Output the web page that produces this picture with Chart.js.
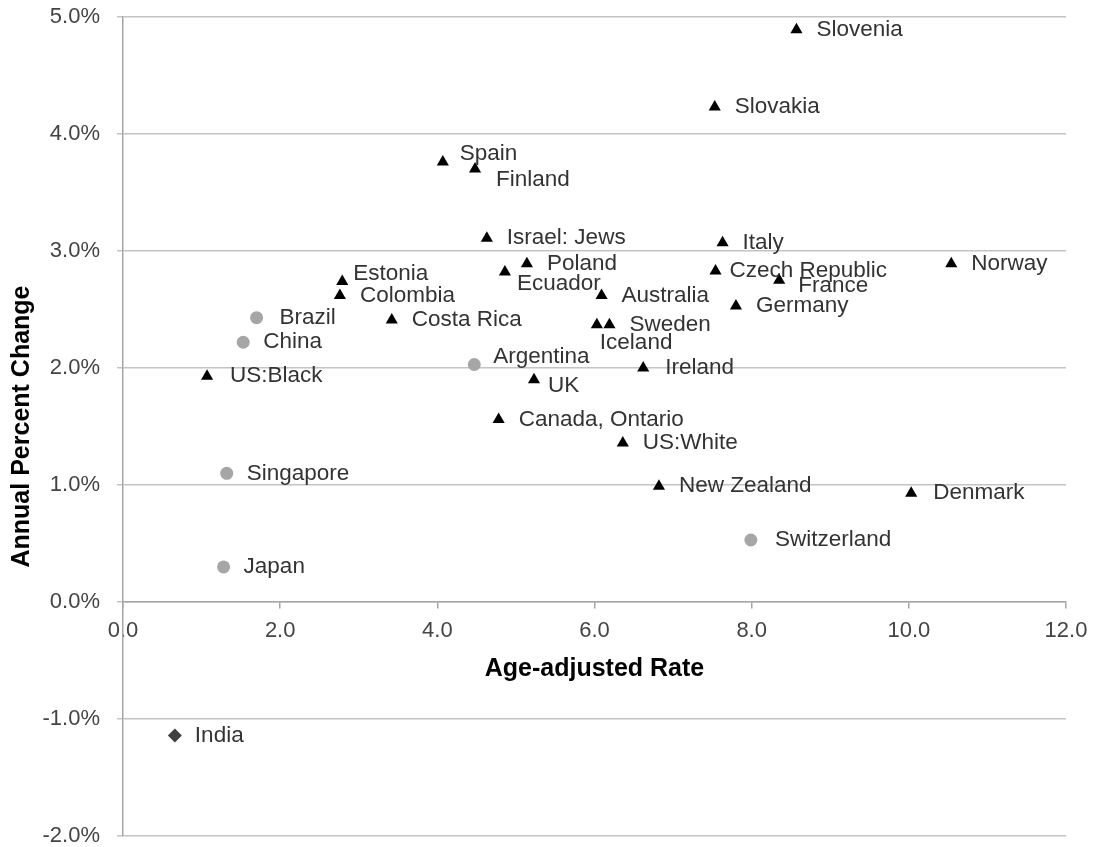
<!DOCTYPE html>
<html>
<head>
<meta charset="utf-8">
<script src="https://cdn.jsdelivr.net/npm/chart.js@4.4.1/dist/chart.umd.min.js"></script>
<style>
  html, body { margin: 0; padding: 0; background: #fff; }
  #wrap { width: 1099px; height: 847px; }
</style>
</head>
<body>
<div id="wrap"><canvas id="scatterChart"></canvas></div>
<script>
// countries drawn with black triangles
const triNames = ['Slovenia', 'Slovakia', 'Spain', 'Finland', 'Israel: Jews', 'Italy', 'Norway',
  'Poland', 'Czech Republic', 'Ecuador', 'Estonia', 'France', 'Colombia', 'Australia', 'Germany',
  'Costa Rica', 'Iceland', 'Sweden', 'Ireland', 'US:Black', 'UK', 'Canada, Ontario', 'US:White',
  'New Zealand', 'Denmark'];
const triRate = [8.57, 7.53, 4.07, 4.48, 4.63, 7.63, 10.54, 5.14, 7.54, 4.86, 2.79, 8.35, 2.76, 6.09, 7.80,
  3.42, 6.03, 6.19, 6.62, 1.07, 5.23, 4.78, 6.36, 6.82, 10.03];
const triChange = [4.89, 4.23, 3.76, 3.70, 3.11, 3.07, 2.89, 2.89, 2.83, 2.82, 2.74, 2.75, 2.62, 2.62, 2.53,
  2.41, 2.37, 2.37, 2.00, 1.93, 1.90, 1.56, 1.36, 0.99, 0.93];

// countries drawn with grey circles
const dotNames = ['Brazil', 'China', 'Argentina', 'Singapore', 'Japan', 'Switzerland'];
const dotRate = [1.70, 1.53, 4.47, 1.32, 1.28, 7.99];
const dotChange = [2.43, 2.22, 2.03, 1.10, 0.30, 0.53];

// diamond
const diaNames = ['India'];
const diaRate = [0.66];
const diaChange = [-1.14];

// axis ticks
const xTicks = [0, 2, 4, 6, 8, 10, 12];
const yTicks = [-2, -1, 0, 1, 2, 3, 4, 5];

// where a label does not sit just right of its marker
const labelShift = {
  'Spain': [17, -8], 'Finland': [21, 11], 'Ecuador': [12, 12], 'Czech Republic': [14, 0],
  'France': [19, 6], 'Estonia': [11, -8], 'Iceland': [3, 18], 'Argentina': [19, -8],
  'UK': [14, 6], 'Brazil': [23, 0], 'US:Black': [23, 0], 'Switzerland': [24, 0],
  'Denmark': [22, 0], 'Ireland': [22, 0]
};

const toPoints = (xs, ys) => xs.map((x, i) => ({ x: x, y: ys[i] }));

const pointLabels = {
  id: 'pointLabels',
  afterDatasetsDraw(chart) {
    const ctx = chart.ctx;
    ctx.save();
    ctx.font = '22.5px "Liberation Sans", Arial, sans-serif';
    ctx.fillStyle = '#333';
    ctx.textBaseline = 'middle';
    ctx.textAlign = 'left';
    chart.data.datasets.forEach((ds, i) => {
      chart.getDatasetMeta(i).data.forEach((pt, j) => {
        const name = ds.names[j];
        const s = labelShift[name] || [20, 0];
        ctx.fillText(name, pt.x + s[0], pt.y + s[1]);
      });
    });
    ctx.restore();
  }
};

const tickFont = { family: '"Liberation Sans", Arial, sans-serif', size: 22 };
const titleFont = { family: '"Liberation Sans", Arial, sans-serif', size: 25, weight: 'bold' };

const ctx = document.querySelector('#scatterChart');
const chart = new Chart(ctx, {
  type: 'scatter',
  data: {
    datasets: [
      {
        names: triNames,
        data: toPoints(triRate, triChange),
        pointStyle: 'triangle',
        pointRadius: 7,
        backgroundColor: '#000',
        borderColor: '#000',
        borderWidth: 0,
      },
      {
        names: dotNames,
        data: toPoints(dotRate, dotChange),
        pointStyle: 'circle',
        pointRadius: 6.5,
        backgroundColor: '#a6a6a6',
        borderColor: '#a6a6a6',
        borderWidth: 0,
      },
      {
        names: diaNames,
        data: toPoints(diaRate, diaChange),
        pointStyle: 'rectRot',
        pointRadius: 7,
        backgroundColor: '#404040',
        borderColor: '#404040',
        borderWidth: 0,
      },
    ],
  },
  options: {
    responsive: true,
    maintainAspectRatio: false,
    animation: false,
    events: [],
    layout: { padding: { top: 17, right: 33, bottom: 11, left: 0 } },
    plugins: {
      legend: { display: false },
      tooltip: { enabled: false },
    },
    scales: {
      x: {
        type: 'linear',
        position: { y: 0 },
        min: xTicks[0],
        max: xTicks[xTicks.length - 1],
        afterBuildTicks: (scale) => { scale.ticks = xTicks.map(v => ({ value: v })); },
        ticks: {
          font: tickFont,
          color: '#444',
          padding: 10,
          callback: (v) => v.toFixed(1),
        },
        grid: { drawOnChartArea: false, drawTicks: true, tickLength: 6, color: '#a6a6a6', lineWidth: 1.5 },
        border: { color: '#a6a6a6', width: 1.5 },
        title: {
          display: true,
          text: 'Age-adjusted Rate',
          font: titleFont,
          color: '#000',
          padding: { top: 0, bottom: 0 },
        },
      },
      y: {
        type: 'linear',
        min: yTicks[0],
        max: yTicks[yTicks.length - 1],
        afterBuildTicks: (scale) => { scale.ticks = yTicks.map(v => ({ value: v })); },
        afterFit: (scale) => {
          scale.width = 123;
          scale.paddingTop = 0;
          scale.paddingBottom = 0;
        },
        ticks: {
          font: tickFont,
          color: '#444',
          padding: 17,
          callback: (v) => v.toFixed(1) + '%',
        },
        grid: { color: '#c4c4c4', lineWidth: 1.5, drawTicks: true, tickLength: 6 },
        border: { color: '#a6a6a6', width: 1.5 },
        title: {
          display: true,
          text: 'Annual Percent Change',
          font: titleFont,
          color: '#000',
          padding: { top: 7, bottom: 0 },
        },
      },
    },
  },
  plugins: [pointLabels],
});
</script>
</body>
</html>
